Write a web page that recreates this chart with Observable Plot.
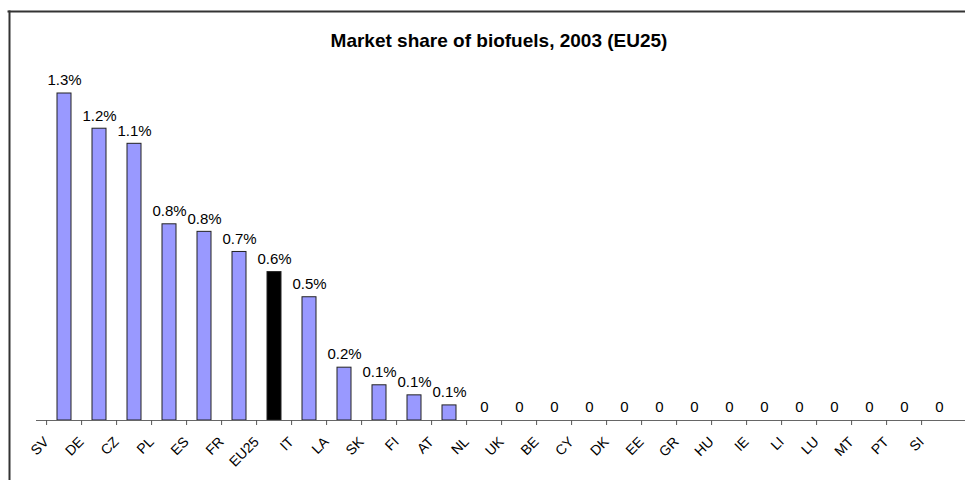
<!DOCTYPE html>
<html>
<head>
<meta charset="utf-8">
<script src="https://cdn.jsdelivr.net/npm/d3@7"></script>
<script src="https://cdn.jsdelivr.net/npm/@observablehq/plot@0.6"></script>
<style>
  html, body { margin: 0; padding: 0; background: #fff; overflow: hidden; }
  #chart { position: absolute; left: 0; top: 0; }
</style>
</head>
<body>
<div id="chart"></div>
<script>
const title = "Market share of biofuels, 2003 (EU25)";
const countries = ["SV","DE","CZ","PL","ES","FR","EU25","IT","LA","SK","FI","AT","NL","UK","BE","CY","DK","EE","GR","HU","IE","LI","LU","MT","PT","SI"];
const shares = [1.30,1.16,1.10,0.78,0.75,0.67,0.59,0.49,0.21,0.14,0.10,0.06,0,0,0,0,0,0,0,0,0,0,0,0,0,0];
const valueLabels = ["1.3%","1.2%","1.1%","0.8%","0.8%","0.7%","0.6%","0.5%","0.2%","0.1%","0.1%","0.1%","0","0","0","0","0","0","0","0","0","0","0","0","0","0"];
const highlight = "EU25";

const data = countries.map((c, i) => ({country: c, share: shares[i], label: valueLabels[i]}));

const xRange = [36, 967];
const step = (xRange[1] - xRange[0]) / countries.length;

const chart = Plot.plot({
  width: 965,
  height: 480,
  marginTop: 93,
  marginBottom: 60,
  marginLeft: 36,
  marginRight: 0,
  style: {fontFamily: "Liberation Sans, Arial, sans-serif", fontSize: "14px", color: "#000", background: "transparent"},
  x: {domain: countries, range: xRange, paddingInner: 0.6, paddingOuter: 0.3, label: null},
  y: {domain: [0, 1.3], axis: null},
  marks: [
    Plot.frame({anchor: "left", insetLeft: -27, insetTop: -82, insetBottom: -70, stroke: "#333", strokeWidth: 2}),
    Plot.frame({anchor: "top", insetLeft: -28, insetTop: -82, insetRight: 1, stroke: "#333", strokeWidth: 2}),
    Plot.barY(data, {
      x: "country", y: "share",
      fill: d => d.country === highlight ? "#000000" : "#9999FF",
      stroke: "#222", strokeWidth: 1
    }),
    Plot.ruleY([0], {stroke: "#666", strokeWidth: 1}),
    Plot.axisX({tickSize: 5, tickFormat: () => "", dx: -step / 2, stroke: "#555"}),
    Plot.axisX({tickSize: 0, tickRotate: -45, tickPadding: 19, dx: -18, fontSize: 14, fill: "#000"}),
    Plot.text(data, {x: "country", y: "share", text: "label", dy: -13, fontSize: 15, fill: "#000"}),
    Plot.text([title], {frameAnchor: "top", text: d => d, dy: -60, dx: -2, fontSize: 19, fontWeight: "bold", fill: "#000"})
  ]
});
document.getElementById("chart").appendChild(chart);
</script>
</body>
</html>
